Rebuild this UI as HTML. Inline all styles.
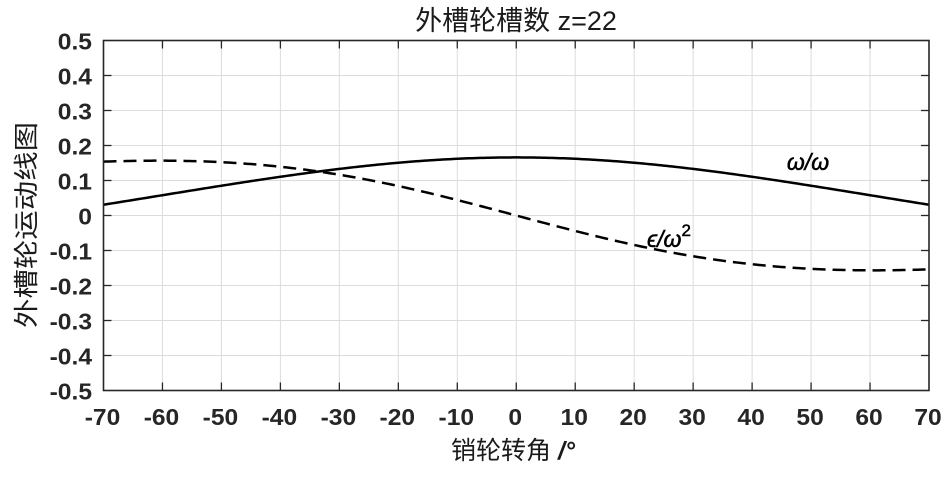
<!DOCTYPE html>
<html>
<head>
<meta charset="utf-8">
<style>
html,body{margin:0;padding:0;background:#fff;}
svg{display:block;}
</style>
</head>
<body>
<svg id="c" width="945" height="477" viewBox="0 0 945 477" xmlns="http://www.w3.org/2000/svg">
<rect x="0" y="0" width="945" height="477" fill="#ffffff"/>
<g id="grid" stroke="#dcdcdc" stroke-width="1" fill="none"></g>
<path id="solid" fill="none" stroke="#000" stroke-width="2.5" stroke-linejoin="round"/>
<path id="dash" fill="none" stroke="#000" stroke-width="2.5" stroke-dasharray="13 7"/>
<g id="ticks" stroke="#262626" stroke-width="1.3" fill="none"></g>
<rect x="103.5" y="40.5" width="825.5" height="350" fill="none" stroke="#262626" stroke-width="1.6"/>
<g id="labels" font-family="'Liberation Sans', Arial, sans-serif" font-weight="bold" font-size="23" fill="#262626"></g>
<text x="516" y="30" text-anchor="middle" font-family="'Liberation Sans','Noto Sans CJK SC',sans-serif" font-size="27" fill="#1a1a1a">外槽轮槽数 z=22</text>
<text x="513" y="459" text-anchor="middle" font-family="'Liberation Sans','Noto Sans CJK SC',sans-serif" font-size="25" fill="#1a1a1a">销轮转角 <tspan font-weight="bold" font-style="italic">/°</tspan></text>
<text transform="translate(35,225) rotate(-90)" text-anchor="middle" font-family="'Liberation Sans','Noto Sans CJK SC',sans-serif" font-size="25" fill="#1a1a1a" textLength="206" lengthAdjust="spacingAndGlyphs">外槽轮运动线图</text>
<text x="808" y="170" text-anchor="middle" font-family="'Liberation Sans','DejaVu Sans',sans-serif" font-style="italic" font-size="23" fill="#000" stroke="#000" stroke-width="0.5">ω/ω</text>
<text x="647" y="247" font-family="'Liberation Sans','DejaVu Sans',sans-serif" font-style="italic" font-size="23" fill="#000" stroke="#000" stroke-width="0.5">ϵ/ω<tspan font-size="17" dy="-11" font-style="normal">2</tspan></text>
</svg>
<script>
(function(){
var NS="http://www.w3.org/2000/svg";
var L=103.5,R=929,T=40.5,B=390.5;
function X(p){return L+(p+70)*(R-L)/140;}
function Y(v){return 215.5-v*350;}
var grid=document.getElementById('grid'),ticks=document.getElementById('ticks'),lab=document.getElementById('labels');
function line(g,x1,y1,x2,y2){var l=document.createElementNS(NS,'line');l.setAttribute('x1',x1);l.setAttribute('y1',y1);l.setAttribute('x2',x2);l.setAttribute('y2',y2);g.appendChild(l);}
function text(s,x,y,anchor){var t=document.createElementNS(NS,'text');t.setAttribute('x',0);t.setAttribute('y',0);t.setAttribute('transform','translate('+x+','+y+') scale(1.07,1)');t.setAttribute('text-anchor',anchor);t.textContent=s;lab.appendChild(t);}
for(var p=-70;p<=70;p+=10){
  var x=X(p);
  if(p>-70&&p<70){line(grid,x,T,x,B);line(ticks,x,T,x,T+8);line(ticks,x,B,x,B-8);}
  text(String(p),x-1,425,'middle');
}
for(var i=-5;i<=5;i++){
  var v=i/10,y=Y(v);
  if(i>-5&&i<5){line(grid,L,y,R,y);line(ticks,L,y,L+8,y);line(ticks,R,y,R-8,y);}
  var s=(i===0)?'0':((i<0?'-':'')+'0.'+Math.abs(i));
  text(s,92,y+9,'end');
}
var lam=Math.sin(Math.PI/22);
var d1='',d2='';
for(var k=0;k<=280;k++){
  var ph=-70+k*0.5,r=ph*Math.PI/180;
  var D=1-2*lam*Math.cos(r)+lam*lam;
  var w=lam*(Math.cos(r)-lam)/D;
  var e=lam*(lam*lam-1)*Math.sin(r)/(D*D);
  d1+=(k?'L':'M')+X(ph).toFixed(2)+' '+Y(w).toFixed(2);
  d2+=(k?'L':'M')+X(ph).toFixed(2)+' '+Y(e).toFixed(2);
}
document.getElementById('solid').setAttribute('d',d1);
document.getElementById('dash').setAttribute('d',d2);
})();
</script>
</body>
</html>
